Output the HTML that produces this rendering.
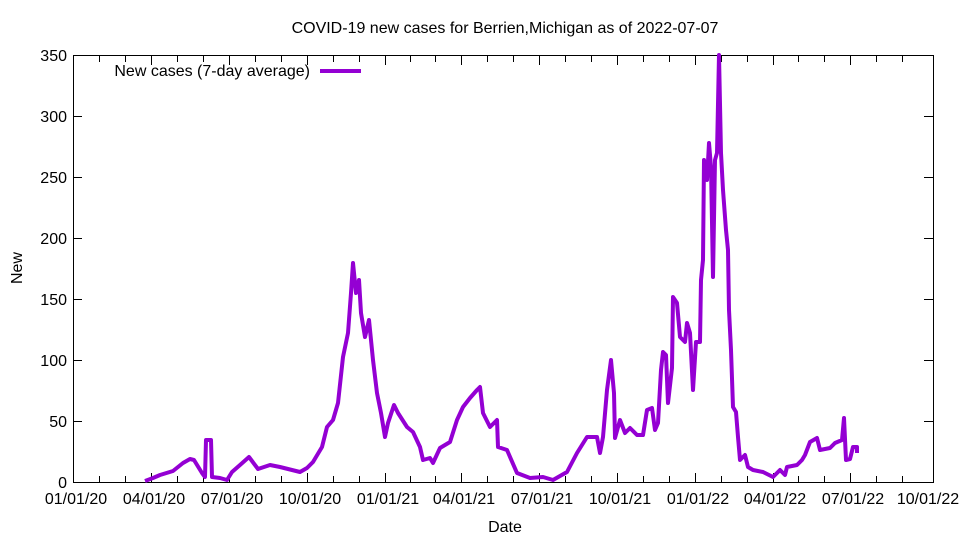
<!DOCTYPE html>
<html><head><meta charset="utf-8"><style>body{margin:0;background:#fff}</style></head><body>
<svg width="960" height="540" xmlns="http://www.w3.org/2000/svg" font-family="Liberation Sans, sans-serif" font-size="16">
<rect width="960" height="540" fill="#fff"/>
<text x="505" y="33" text-anchor="middle">COVID-19 new cases for Berrien,Michigan as of 2022-07-07</text>
<g stroke="#000" stroke-width="1">
<rect x="73.5" y="55.5" width="860" height="427" fill="none"/>
<path d="M73 421.5h9M933 421.5h-9M73 360.5h9M933 360.5h-9M73 299.5h9M933 299.5h-9M73 238.5h9M933 238.5h-9M73 177.5h9M933 177.5h-9M73 116.5h9M933 116.5h-9"/>
<path d="M99.5 482v-6M125.5 482v-6M151.5 482v-9M177.5 482v-6M203.5 482v-6M229.5 482v-9M255.5 482v-6M281.5 482v-6M307.5 482v-9M333.5 482v-6M359.5 482v-6M385.5 482v-9M410.5 482v-6M435.5 482v-6M461.5 482v-9M487.5 482v-6M513.5 482v-6M539.5 482v-9M565.5 482v-6M591.5 482v-6M617.5 482v-9M643.5 482v-6M669.5 482v-6M695.5 482v-9M721.5 482v-6M747.5 482v-6M773.5 482v-9M798.5 482v-6M824.5 482v-6M850.5 482v-9M876.5 482v-6M902.5 482v-6"/>
<path d="M99.5 56v6M125.5 56v6M151.5 56v9M177.5 56v6M203.5 56v6M229.5 56v9M255.5 56v6M281.5 56v6M307.5 56v9M333.5 56v6M359.5 56v6M385.5 56v9M410.5 56v6M435.5 56v6M461.5 56v9M487.5 56v6M513.5 56v6M539.5 56v9M565.5 56v6M591.5 56v6M617.5 56v9M643.5 56v6M669.5 56v6M695.5 56v9M721.5 56v6M747.5 56v6M773.5 56v9M798.5 56v6M824.5 56v6M850.5 56v9M876.5 56v6M902.5 56v6"/>
</g>
<g text-anchor="end">
<text x="67" y="488">0</text><text x="67" y="427">50</text><text x="67" y="366">100</text><text x="67" y="305">150</text><text x="67" y="244">200</text><text x="67" y="183">250</text><text x="67" y="122">300</text><text x="67" y="61">350</text>
</g>
<g text-anchor="middle">
<text x="76" y="504">01/01/20</text><text x="154" y="504">04/01/20</text><text x="232" y="504">07/01/20</text><text x="310" y="504">10/01/20</text><text x="388" y="504">01/01/21</text><text x="464" y="504">04/01/21</text><text x="542" y="504">07/01/21</text><text x="620" y="504">10/01/21</text><text x="698" y="504">01/01/22</text><text x="775" y="504">04/01/22</text><text x="853" y="504">07/01/22</text><text x="928" y="504">10/01/22</text>
<text x="505" y="532">Date</text>
<text x="22" y="268" transform="rotate(-90 22 268)">New</text>
</g>
<text x="310" y="76" text-anchor="end">New cases (7-day average)</text>
<path d="M320 71h41" stroke="#9400d3" stroke-width="4"/>
<polyline fill="none" stroke="#9400d3" stroke-width="4" stroke-linejoin="round" points="145,481 153,478 160,475 173,471 183,463 190,459 194,460 202,473 205,477 206,440 211,440 212,477 220,478 227,480 232,472 240,465 249,457 258,469 270,465 280,467 292,470 300,472 307,468 313,462 322,447 327,427 333,420 338,403 343,357 348,333 351,293 353,263 356,293 359,280 361,313 365,337 369,320 373,360 377,393 381,413 385,437 388,423 394,405 398,413 407,427 413,432 420,447 423,460 430,458 433,463 440,448 450,442 457,420 463,407 470,398 477,390 480,387 483,413 490,427 497,420 498,447 507,450 517,473 530,478 543,477 553,480 567,472 577,453 587,437 597,437 600,453 603,437 607,390 611,360 614,393 615,438 620,420 625,433 630,428 637,435 643,435 647,410 652,408 655,430 658,423 661,370 663,352 666,355 668,403 672,368 673,297 677,303 680,337 685,342 687,323 690,333 693,390 696,342 700,342 701,280 703,260 704,160 707,180 709,143 711,167 713,277 715,160 717,153 719,55 721,153 723,190 726,230 728,250 729,310 731,350 733,407 736,412 738,437 740,460 745,455 748,467 753,470 763,472 773,477 780,470 785,475 787,467 797,465 802,460 805,455 810,442 817,438 820,450 830,448 835,443 842,440 844,418 846,460 850,459 853,447 857,447 857,453"/>
</svg>
</body></html>
